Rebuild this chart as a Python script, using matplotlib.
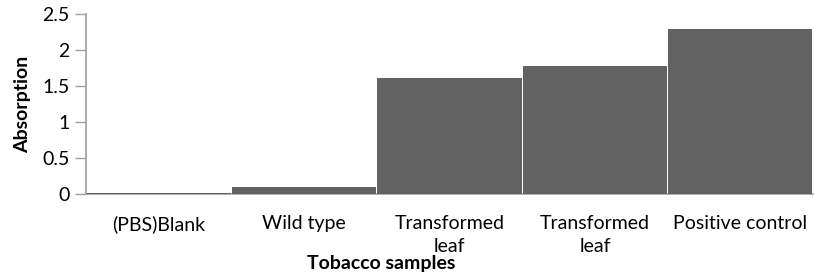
import numpy as np
import matplotlib.pyplot as plt

plt.rcParams['font.family'] = ['Lato', 'DejaVu Sans']

samples = ['(PBS)Blank', 'Wild type', 'Transformed\nleaf', 'Transformed\nleaf', 'Positive control']
absorption = [0.02, 0.10, 1.61, 1.78, 2.29]
yticks = [0, 0.5, 1, 1.5, 2, 2.5]
yticklabels = ['0', '0.5', '1', '1.5', '2', '2.5']

fig = plt.figure(figsize=(8.14, 2.74), dpi=100)
ax = fig.add_axes([86 / 814, 80 / 274, 727 / 814, 180 / 274])

x = np.arange(len(samples))
ax.bar(x, absorption, width=0.992, color='#626262', linewidth=0, zorder=3)

ax.set_xlim(-0.5, len(samples) - 0.5)
ax.set_ylim(0, 2.5)
ax.set_yticks(yticks)
ax.set_yticklabels(yticklabels, fontsize=14)
ax.set_xticks(x)
ax.set_xticklabels(samples, fontsize=14, linespacing=1.45, va='top')
ax.tick_params(axis='x', length=0, pad=15)
ax.tick_params(axis='y', length=8, width=1, color='#a0a0a0', pad=4)

for s in ['top', 'right']:
    ax.spines[s].set_visible(False)
for s in ['left', 'bottom']:
    ax.spines[s].set_color('#a0a0a0')
    ax.spines[s].set_linewidth(1.2)

ax.set_ylabel('Absorption', fontsize=14, fontweight='bold', labelpad=8)
fig.text(381 / 814, 1 - 264 / 274, 'Tobacco samples', fontsize=14, fontweight='bold',
         ha='center', va='center')

fig.savefig('out.png', dpi=100)
